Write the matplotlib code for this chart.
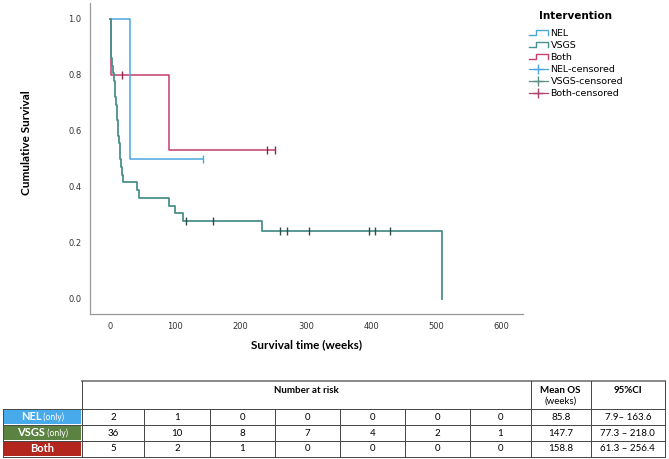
import matplotlib
matplotlib.use("Agg")
import matplotlib.pyplot as plt
from matplotlib.lines import Line2D
from matplotlib.patches import Rectangle
from matplotlib.legend_handler import HandlerBase

# Kaplan-Meier step data (weeks, survival)
nel_t = [0, 31, 143]
nel_s = [1.0, 0.5, 0.5]
nel_cens_t = [143]
nel_cens_s = [0.5]

vsgs_t = [0, 1, 2, 3, 5, 6, 7, 8, 9, 10, 11, 12, 13, 14, 15, 16, 17, 19, 20,
          42, 44, 91, 99, 112, 233, 509]
vsgs_s = [1.0, 0.917, 0.861, 0.833, 0.806, 0.778, 0.750, 0.722, 0.694, 0.667,
          0.639, 0.611, 0.583, 0.556, 0.528, 0.500, 0.472, 0.444, 0.417,
          0.389, 0.361, 0.333, 0.306, 0.278, 0.243, 0.0]
vsgs_cens_t = [117, 158, 261, 271, 305, 396, 406, 429]
vsgs_cens_s = [0.278, 0.278, 0.243, 0.243, 0.243, 0.243, 0.243, 0.243]

both_t = [0, 1, 91, 253]
both_s = [1.0, 0.8, 0.533, 0.533]
both_cens_t = [19, 240, 253]
both_cens_s = [0.8, 0.533, 0.533]

# risk table
groups = ["NEL", "VSGS", "Both"]
group_tags = [" (only)", " (only)", ""]
at_risk = [[2, 1, 0, 0, 0, 0, 0],
           [36, 10, 8, 7, 4, 2, 1],
           [5, 2, 1, 0, 0, 0, 0]]
mean_os = ["85.8", "147.7", "158.8"]
ci95 = ["7.9\u2013 163.6", "77.3 \u2013 218.0", "61.3 \u2013 256.4"]

c_nel = "#4aa8e0"
c_vsgs = "#4a908c"
c_both = "#c23f6e"
c_vsgs_cens = "#2b4f48"
c_both_cens = "#8e2550"
cell_cols = ["#46aaeb", "#5b8240", "#b3261e"]


class StepHandler(HandlerBase):
    def create_artists(self, legend, orig, xd, yd, w, h, fontsize, trans):
        x = [xd, xd + 0.4 * w, xd + 0.4 * w, xd + w, xd + w]
        y = [yd + 0.15 * h, yd + 0.15 * h, yd + 0.85 * h, yd + 0.85 * h, yd + 0.15 * h]
        ln = Line2D(x, y, color=orig.get_color(), lw=1.0, transform=trans)
        return [ln]


fig = plt.figure(figsize=(6.69, 4.59), dpi=100)
ax = fig.add_axes([90 / 669, 1 - 314 / 459, 433 / 669, 311 / 459])

ax.step(both_t, both_s, where="post", color=c_both, lw=1.1, zorder=2)
ax.step(nel_t, nel_s, where="post", color=c_nel, lw=1.1, zorder=3)
ax.step(vsgs_t, vsgs_s, where="post", color=c_vsgs, lw=1.3, zorder=4)
ax.plot(nel_cens_t, nel_cens_s, ls="none", marker="|", ms=6, mew=1.0, color=c_nel, zorder=5)
ax.plot(vsgs_cens_t, vsgs_cens_s, ls="none", marker="|", ms=6, mew=1.0, color=c_vsgs_cens, zorder=5)
ax.plot(both_cens_t, both_cens_s, ls="none", marker="|", ms=6, mew=1.0, color=c_both_cens, zorder=5)

ax.set_xlim(-30.6, 632.5)
ax.set_ylim(-0.054, 1.057)
ax.set_xticks([0, 100, 200, 300, 400, 500, 600])
ax.set_yticks([0.0, 0.2, 0.4, 0.6, 0.8, 1.0])
ax.set_yticklabels(["0.0", "0.2", "0.4", "0.6", "0.8", "1.0"])
ax.tick_params(length=0, labelsize=6, labelcolor="#333333", pad=6)
for s in ["top", "right"]:
    ax.spines[s].set_visible(False)
for s in ["left", "bottom"]:
    ax.spines[s].set_color("#999999")
    ax.spines[s].set_linewidth(0.9)
ax.set_xlabel("Survival time (weeks)", fontfamily="Lato", fontweight="bold",
              fontsize=8.5, labelpad=6)
ax.set_ylabel("Cumulative Survival", fontfamily="Lato", fontweight="bold",
              fontsize=8.5)
ax.yaxis.set_label_coords(-0.134, 0.55)

# legend
h_nel = Line2D([], [], color=c_nel)
h_vsgs = Line2D([], [], color=c_vsgs)
h_both = Line2D([], [], color=c_both)
hc_nel = Line2D([], [], color=c_nel, marker="+", ms=7, lw=0.9)
hc_vsgs = Line2D([], [], color="#5f8f85", marker="+", ms=7, lw=0.9)
hc_both = Line2D([], [], color="#b04070", marker="+", ms=7, lw=0.9)
leg = fig.legend([h_nel, h_vsgs, h_both, hc_nel, hc_vsgs, hc_both],
                 ["NEL", "VSGS", "Both", "NEL-censored", "VSGS-censored", "Both-censored"],
                 handler_map={h_nel: StepHandler(), h_vsgs: StepHandler(), h_both: StepHandler()},
                 loc="upper left", bbox_to_anchor=(524 / 669, 1 - 6 / 459),
                 frameon=False, borderpad=0, fontsize=6.8, handlelength=2.0,
                 handletextpad=0.3, labelspacing=0.32, title="Intervention",
                 title_fontproperties={"weight": "bold", "size": 7.5})
leg._legend_box.sep = 6

# risk table drawn in pixel coordinates
tab = fig.add_axes([0, 0, 1, 1], zorder=-1)
tab.set_xlim(0, 669)
tab.set_ylim(459, 0)
tab.axis("off")

xs = [82, 144.3, 209.6, 275, 340, 405, 470, 530.7, 590.7, 665]
ys = [381, 409, 425, 441, 456.5]
lc = "#444444"

# header
tab.plot([xs[0], xs[-1]], [ys[0], ys[0]], color="#888888", lw=1.4)
for xv in [xs[0], xs[7], xs[8], xs[-1]]:
    tab.plot([xv, xv], [ys[0], ys[1]], color=lc, lw=0.7)
tab.text((xs[0] + xs[7]) / 2, ys[0] + 5, "Number at risk", ha="center", va="top",
         fontfamily="Lato", fontweight="bold", fontsize=7)
tab.text((xs[7] + xs[8]) / 2, ys[0] + 5, "Mean OS", ha="center", va="top",
         fontfamily="Lato", fontweight="bold", fontsize=7)
tab.text((xs[7] + xs[8]) / 2, ys[0] + 16, "(weeks)", ha="center", va="top",
         fontfamily="Lato", fontsize=7)
tab.text((xs[8] + xs[9]) / 2, ys[0] + 5, "95%CI", ha="center", va="top",
         fontfamily="Lato", fontweight="bold", fontsize=7)

# body grid
for yv in ys[1:]:
    tab.plot([3, xs[-1]], [yv, yv], color=lc, lw=0.7)
for xv in xs:
    tab.plot([xv, xv], [ys[1], ys[-1]], color=lc, lw=0.7)
tab.plot([3, 3], [ys[1], ys[-1]], color=lc, lw=0.7)

fig.canvas.draw()
rend = fig.canvas.get_renderer()
for i, g in enumerate(groups):
    y0, y1 = ys[i + 1], ys[i + 2]
    yc = (y0 + y1) / 2
    tab.add_patch(Rectangle((3.6, y0 + 0.6), xs[0] - 4.2, y1 - y0 - 1.2,
                            facecolor=cell_cols[i], edgecolor="none"))
    t1 = tab.text(0, yc, g, ha="left", va="center", color="white",
                  fontfamily="Lato", fontweight="bold", fontsize=8)
    w1 = t1.get_window_extent(rend).width
    w2 = 0
    if group_tags[i]:
        t2 = tab.text(0, yc + 0.5, group_tags[i], ha="left", va="center", color="white",
                      fontfamily="Lato", fontsize=6.2)
        w2 = t2.get_window_extent(rend).width
    start = (3 + xs[0]) / 2 - (w1 + w2) / 2
    t1.set_x(start)
    if group_tags[i]:
        t2.set_x(start + w1)
    for j, v in enumerate(at_risk[i]):
        tab.text((xs[j] + xs[j + 1]) / 2, yc, str(v), ha="center", va="center",
                 fontfamily="Lato", fontsize=7)
    tab.text((xs[7] + xs[8]) / 2, yc, mean_os[i], ha="center", va="center",
             fontfamily="Lato", fontsize=7)
    tab.text((xs[8] + xs[9]) / 2, yc, ci95[i], ha="center", va="center",
             fontfamily="Lato", fontsize=7)

fig.savefig("out.png", dpi=100)
